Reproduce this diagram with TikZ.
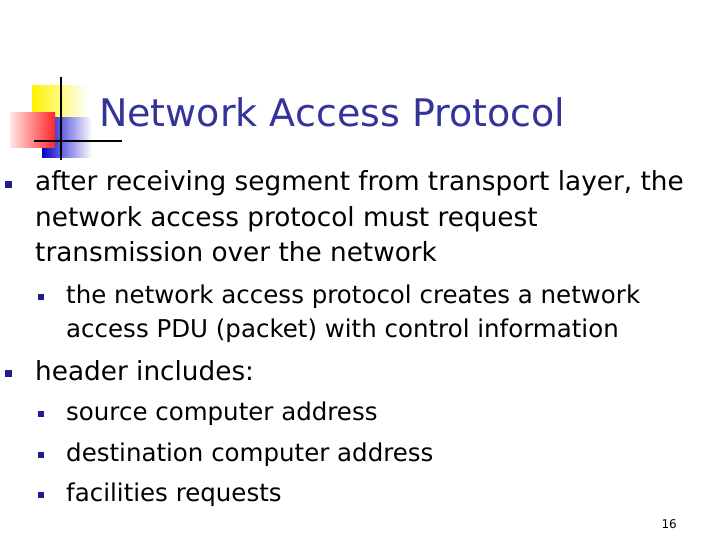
\documentclass[tikz,border=0pt]{standalone}
\usepackage{fontspec}
\setmainfont{DejaVu Sans}
\begin{document}
\begin{tikzpicture}[x=1pt,y=-1pt,
  txt/.style={anchor=base west,inner sep=0pt,font=\fontsize{26.3}{30}\selectfont},
  sub/.style={anchor=base west,inner sep=0pt,font=\fontsize{24.5}{26}\selectfont},
  blt/.style={fill=bul,minimum size=7pt,inner sep=0pt},
  sblt/.style={fill=bul,minimum size=6pt,inner sep=0pt}]
\definecolor{bul}{RGB}{30,30,140}
\definecolor{ttl}{RGB}{51,51,153}
\useasboundingbox (0,0) rectangle (720,540);
% logo
\shade[left color=yellow!90!orange,right color=white] (32,86) rectangle (88,118);
\shade[left color=blue!80!black,right color=white] (42,118) rectangle (92,158);
\shade[left color=red!10,right color=red!85] (10,113) rectangle (55,148);
\draw[line width=2.5pt] (61,77) -- (61,160);
\draw[line width=2.5pt] (34,141) -- (122,141);
\node[anchor=base west,inner sep=0pt,text=ttl,font=\fontsize{38}{44}\selectfont] (t) at (99,127) {Network Access Protocol};
% bullets
\node[blt] (b1) at (8,185) {};
\node[txt] (l1) at (35,191) {after receiving segment from transport layer, the};
\node[txt] (l2) at (35,226) {network access protocol must request};
\node[txt] (l3) at (35,261) {transmission over the network};
\node[sblt] (s1) at (41,297) {};
\node[sub] (m1) at (66,303) {the network access protocol creates a network};
\node[sub] (m2) at (66,337) {access PDU (packet) with control information};
\node[blt] (b2) at (8,373) {};
\node[txt] (l4) at (35,380) {header includes:};
\node[sblt] (s2) at (41,414) {};
\node[sub] (m3) at (66,420) {source computer address};
\node[sblt] (s3) at (41,455) {};
\node[sub] (m4) at (66,461) {destination computer address};
\node[sblt] (s4) at (41,495) {};
\node[sub] (m5) at (66,501) {facilities requests};
\node[anchor=base east,inner sep=0pt,font=\fontsize{12}{14}\selectfont] (pg) at (677,528) {16};
\end{tikzpicture}
\end{document}
